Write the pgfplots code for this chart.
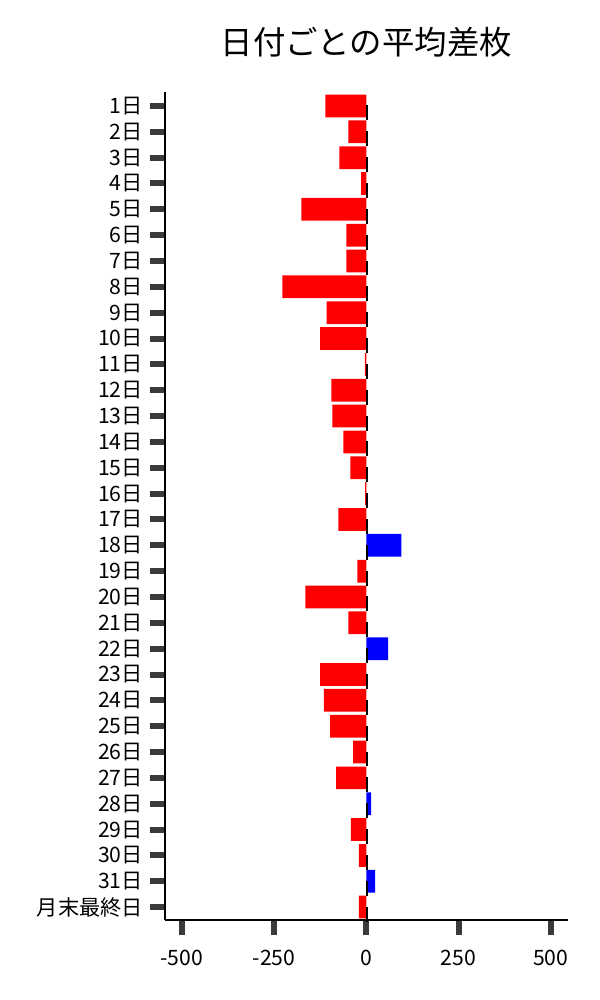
\documentclass[border=0pt]{standalone}
\usepackage{fontspec}
\setmainfont{Noto Sans CJK JP}
\usepackage{pgfplots}
\pgfplotsset{compat=1.18}

\definecolor{negred}{HTML}{FF0000}
\definecolor{posblue}{HTML}{0000FF}
\definecolor{tickgray}{HTML}{3A3A3A}

\begin{document}
\begin{tikzpicture}
\path[use as bounding box] (-123.75pt,-60pt) rectangle (326.25pt,690pt);
\begin{axis}[
    at={(0,0)}, anchor=south west,
    scale only axis,
    width=302pt, height=621pt,
    bar width=0.88,
    y dir=reverse,
    xmin=-546, xmax=546,
    ymin=-0.54, ymax=31.5,
    axis lines*=left,
    axis line style={black, line width=0.9pt},
    xtick={-500,-250,0,250,500},
    xticklabels={-500,-250,0,250,500},
    ytick={0,...,31},
    yticklabels={1日,2日,3日,4日,5日,6日,7日,8日,9日,10日,11日,12日,13日,14日,15日,16日,
        17日,18日,19日,20日,21日,22日,23日,24日,25日,26日,27日,28日,29日,30日,31日,月末最終日},
    tick align=outside,
    major tick length=11pt,
    every major tick/.append style={draw=tickgray, line width=4.5pt},
    ticklabel style={font=\fontsize{15.9}{19}\selectfont},
    yticklabel style={xshift=-2pt},
    xticklabel style={yshift=-8pt},
    title={日付ごとの平均差枚},
    title style={font=\fontsize{24.3}{29}\selectfont, at={(0.5,1)}, anchor=center, yshift=31pt},
]
\addplot[xbar, fill=negred, draw=none, bar shift=0] coordinates {
    (-111,0) (-49,1) (-73,2) (-14,3) (-176,4) (-54,5) (-54,6) (-228,7)
    (-108,8) (-125,9) (-4,10) (-95,11) (-92,12) (-62,13) (-43,14) (-3,15)
    (-76,16) (-24,18) (-165,19) (-49,20) (-125,22) (-115,23)
    (-98,24) (-36,25) (-82,26) (-42,28) (-20,29) (-20,31)
};
\addplot[xbar, fill=posblue, draw=none, bar shift=0] coordinates {
    (95,17) (59,21) (13,27) (24,30)
};
\addplot[only marks, mark=|, mark size=5.6pt, mark options={draw=black, line width=1.8pt}] coordinates {
    (2,0.27) (2,1.27) (2,2.27) (2,3.27) (2,4.27) (2,5.27) (2,6.27) (2,7.27)
    (2,8.27) (2,9.27) (2,10.27) (2,11.27) (2,12.27) (2,13.27) (2,14.27) (2,15.27)
    (2,16.27) (2,17.27) (2,18.27) (2,19.27) (2,20.27) (2,21.27) (2,22.27) (2,23.27)
    (2,24.27) (2,25.27) (2,26.27) (2,27.27) (2,28.27) (2,29.27) (2,30.27) (2,31.27)
};
\end{axis}
\end{tikzpicture}
\end{document}
